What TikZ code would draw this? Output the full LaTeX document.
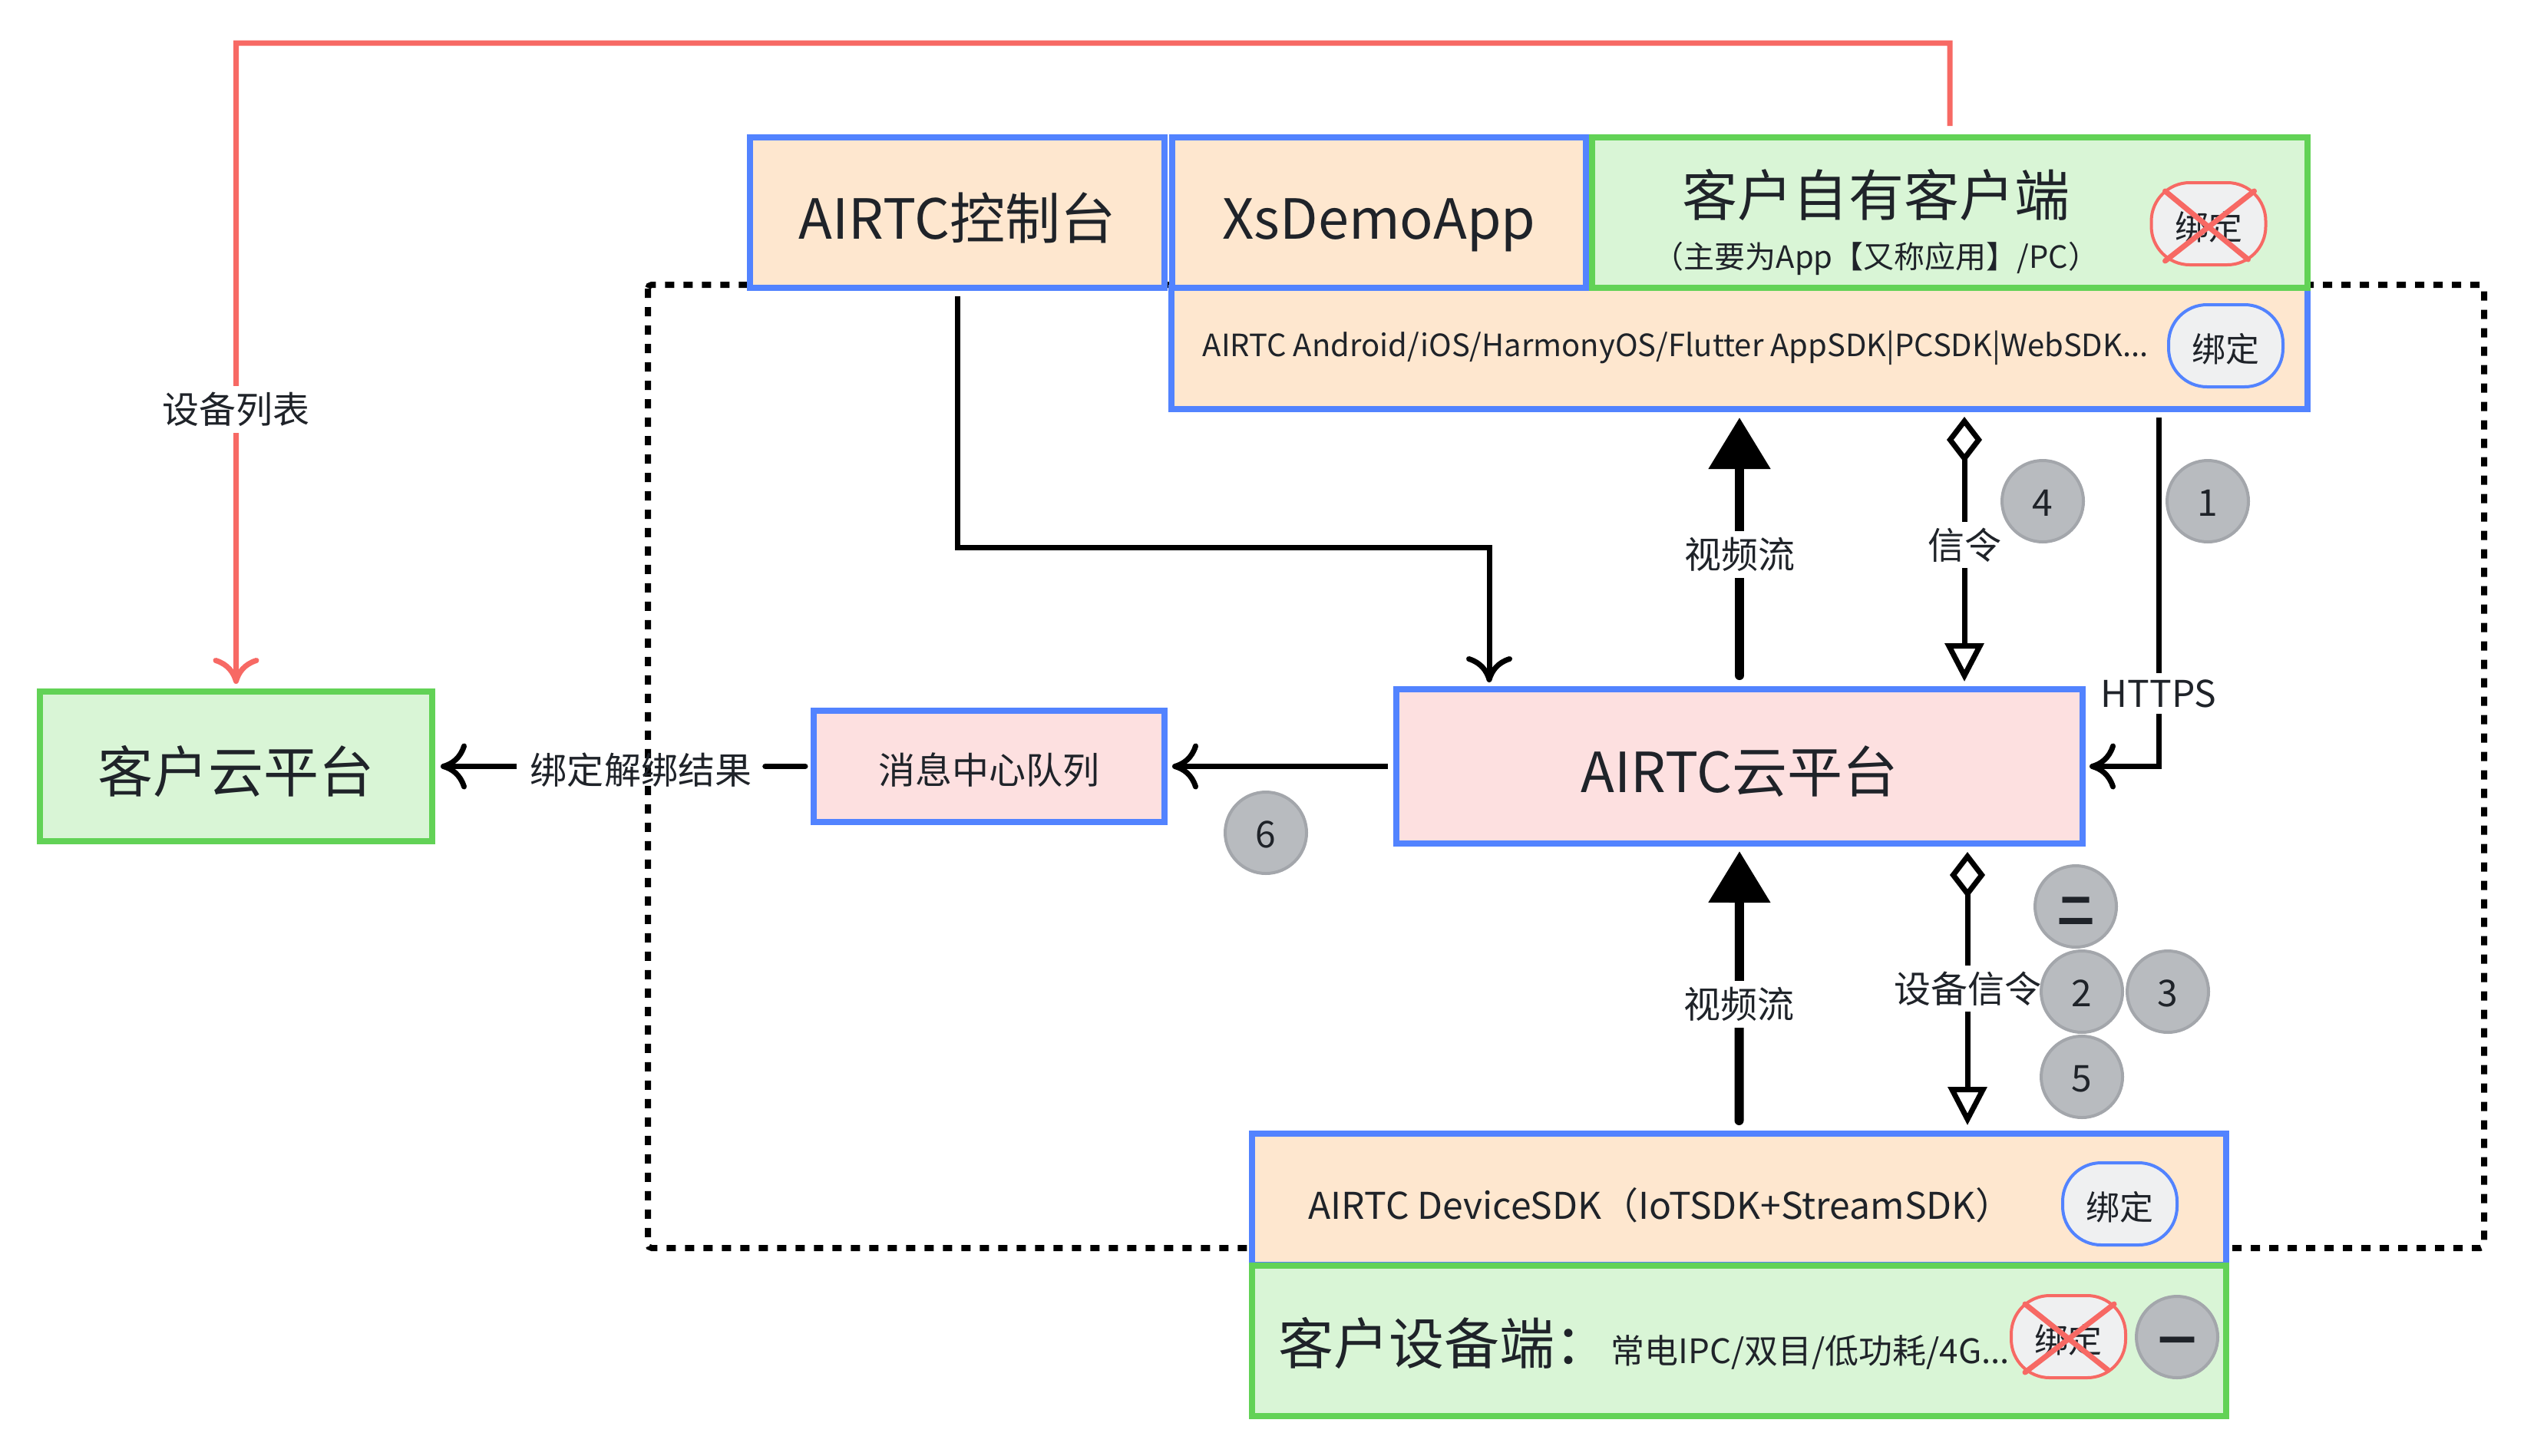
\documentclass[tikz,border=0pt]{standalone}
\usepackage{fontspec}
\setmainfont{Noto Sans CJK SC}
\usetikzlibrary{arrows.meta,calc}
\definecolor{bluedge}{HTML}{5283FF}
\definecolor{greenedge}{HTML}{62D256}
\definecolor{peachfill}{HTML}{FEE7CF}
\definecolor{greenfill}{HTML}{D9F5D6}
\definecolor{pinkfill}{HTML}{FDE0E0}
\definecolor{redline}{HTML}{F76964}
\definecolor{dotfill}{HTML}{B8BBBF}
\definecolor{dotedge}{HTML}{A3A6AB}
\definecolor{pillfill}{HTML}{EFF0F1}
\definecolor{inktext}{HTML}{1F2329}
\tikzset{
    box/.style={draw, line width=.08cm, inner sep=0pt, text=inktext},
    sdkbox/.style={box, draw=bluedge, fill=peachfill},
    ownbox/.style={box, draw=greenedge, fill=greenfill},
    queuebox/.style={box, draw=bluedge, fill=pinkfill},
    bigtext/.style={font=\fontsize{20.5pt}{24pt}\selectfont, text=inktext, inner sep=0pt},
    boxtitle/.style={bigtext, text height=.8cm, text depth=.12cm},
    midtext/.style={font=\fontsize{13.66pt}{16pt}\selectfont, text=inktext},
    midtitle/.style={midtext, text height=.52cm, text depth=.066cm},
    smalltext/.style={font=\fontsize{11.38pt}{14pt}\selectfont, text=inktext, inner sep=0pt},
    pill/.style={draw, line width=.04cm, fill=pillfill, rounded corners=.5cm, minimum width=1.49cm, minimum height=1.07cm, inner sep=0pt, text=inktext, text height=.46cm, text depth=.04cm, font=\fontsize{12.5pt}{15pt}\selectfont},
    numdot/.style={circle, draw=dotedge, line width=.04cm, fill=dotfill, minimum size=1.06cm, inner sep=0pt, text=inktext, text height=.39cm, text depth=0cm, font=\fontsize{13.66pt}{16pt}\selectfont},
    hanzidot/.style={numdot, text height=.46cm, text depth=.02cm, font=\fontsize{13.66pt}{16pt}\selectfont\bfseries},
    crossline/.style={draw=redline, line width=.07cm, line cap=round},
    openline/.style={line width=.07cm, -{Computer Modern Rightarrow[length=.34cm, width=.6cm]}},
    videoline/.style={line width=.12cm, line cap=round, -{Triangle[length=.67cm, width=.78cm]}},
    signalline/.style={line width=.07cm, {Diamond[open, length=.6cm, width=.46cm]}-{Triangle[open, length=.5cm, width=.5cm]}},
    gaplabel/.style={midtext, fill=white, inner sep=.08cm},
}
\begin{document}
\begin{tikzpicture}
    \useasboundingbox (0,0) rectangle (32.88,-18.96);

    % dotted frame behind the boxes
    \draw[line width=.08cm, dash pattern=on .12cm off .12cm, rounded corners=.05cm] (8.44,-3.71) rectangle (32.36,-16.26);

    % top row
    \node[sdkbox, minimum width=14.8cm, minimum height=1.58cm] (appsdk) at (22.66,-4.54) {};
    \node[sdkbox, minimum width=5.4cm, minimum height=1.96cm, boxtitle] (console) at (12.47,-2.77) {AIRTC控制台};
    \node[sdkbox, right of=console, node distance=5.495cm, minimum width=5.39cm, minimum height=1.96cm, boxtitle] (xsdemo) {XsDemoApp};
    \node[ownbox, right of=xsdemo, node distance=7.435cm, minimum width=9.32cm, minimum height=1.96cm] (client) {};
    \node[bigtext] (clienttitle) at (24.44,-2.54) {客户自有客户端};
    \node[below of=clienttitle, node distance=.83cm, smalltext] (clientsub) {（主要为App【又称应用】/PC）};
    \node[pill, draw=redline] (clientpill) at (28.77,-2.915) {绑定};
    \draw[crossline] ([shift={(.2,-.13)}]clientpill.north west) -- ([shift={(-.25,.09)}]clientpill.south east);
    \draw[crossline] ([shift={(-.17,-.13)}]clientpill.north east) -- ([shift={(.2,.07)}]clientpill.south west);
    \node[smalltext, anchor=west] (appsdktext) at (15.66,-4.53) {AIRTC Android/iOS/HarmonyOS/Flutter AppSDK|PCSDK|WebSDK...};
    \node[pill, draw=bluedge] (apppill) at (28.995,-4.505) {绑定};

    % middle row
    \node[queuebox, minimum width=8.94cm, minimum height=2.01cm, boxtitle] (cloud) at (22.66,-9.985) {AIRTC云平台};
    \node[queuebox, minimum width=4.57cm, minimum height=1.45cm, midtitle] (queue) at (12.885,-9.985) {消息中心队列};
    \node[ownbox, minimum width=5.11cm, minimum height=1.95cm, boxtitle] (owncloud) at (3.075,-9.985) {客户云平台};

    % bottom row
    \node[sdkbox, minimum width=12.69cm, minimum height=1.71cm] (devsdk) at (22.655,-15.625) {};
    \node[ownbox, below of=devsdk, node distance=1.84cm, minimum width=12.69cm, minimum height=1.96cm] (device) {};
    \node[midtext, inner sep=0pt, anchor=west] (devsdktext) at (17.04,-15.7) {AIRTC DeviceSDK（IoTSDK+StreamSDK）};
    \node[pill, draw=bluedge] (devpill) at (27.615,-15.685) {绑定};
    \node[bigtext, anchor=west] (devicetitle) at (16.65,-17.5) {客户设备端：};
    \node[smalltext, font=\fontsize{12.5pt}{15pt}\selectfont, anchor=west] (devicesub) at (20.98,-17.62) {常电IPC/双目/低功耗/4G...};
    \node[pill, draw=redline] (devicepill) at (26.945,-17.415) {绑定};
    \draw[crossline] ([shift={(.2,-.13)}]devicepill.north west) -- ([shift={(-.25,.12)}]devicepill.south east);
    \draw[crossline] ([shift={(-.17,-.13)}]devicepill.north east) -- ([shift={(.2,.09)}]devicepill.south west);

    % connectors
    \coordinate (elbow) at (19.4,-7.13);
    \coordinate (topsignal) at (25.59,-8);
    \coordinate (lowsignal) at (25.63,-13);
    \coordinate (https) at (28.12,-8);
    \coordinate (redtop) at (25.4,-.56);

    \draw[openline, draw=redline, shorten <=.11cm, shorten >=.06cm] (client.north) -- (redtop) -| (owncloud.north) node[pos=.784, gaplabel] {设备列表};
    \draw[openline, shorten <=.07cm, shorten >=.05cm] (console.south) |- (elbow) -- (elbow |- cloud.north);
    \draw[videoline, shorten <=.14cm, shorten >=.07cm] (cloud.north) -- (appsdk.south) node[pos=.48, gaplabel] {视频流};
    \draw[signalline, shorten <=.06cm, shorten >=.06cm] (appsdk.south -| topsignal) -- (cloud.north -| topsignal) node[pos=.485, gaplabel] {信令};
    \draw[openline, shorten >=.05cm, shorten <=.07cm] (appsdk.south -| https) |- (cloud.east) node[pos=.397, gaplabel] {HTTPS};
    \draw[openline, shorten <=.07cm, shorten >=.06cm] (cloud.west) -- (queue.east);
    \node[midtitle, inner sep=.17cm] (result) at (8.35,-9.985) {绑定解绑结果};
    \draw[line width=.07cm, line cap=round, shorten <=.07cm] (queue.west) -- (result);
    \draw[openline, shorten >=.07cm] (result) -- (owncloud.east);
    \draw[videoline, shorten <=.13cm, shorten >=.06cm] (devsdk.north) -- (cloud.south) node[pos=.445, gaplabel] {视频流};
    \draw[signalline, shorten <=.07cm, shorten >=.07cm] (cloud.south -| lowsignal) -- (devsdk.north -| lowsignal) node[pos=.5, gaplabel] {设备信令};

    % numbers
    \node[numdot] (n1) at (28.76,-6.53) {1};
    \node[numdot] (n4) at (26.61,-6.53) {4};
    \node[numdot] (n6) at (16.49,-10.85) {6};
    \node[hanzidot] (n22) at (27.04,-11.81) {二};
    \node[numdot] (n2) at (27.12,-12.92) {2};
    \node[numdot] (n3) at (28.24,-12.92) {3};
    \node[numdot] (n5) at (27.12,-14.03) {5};
    \node[hanzidot] (n11) at (28.36,-17.42) {一};
\end{tikzpicture}
\end{document}
